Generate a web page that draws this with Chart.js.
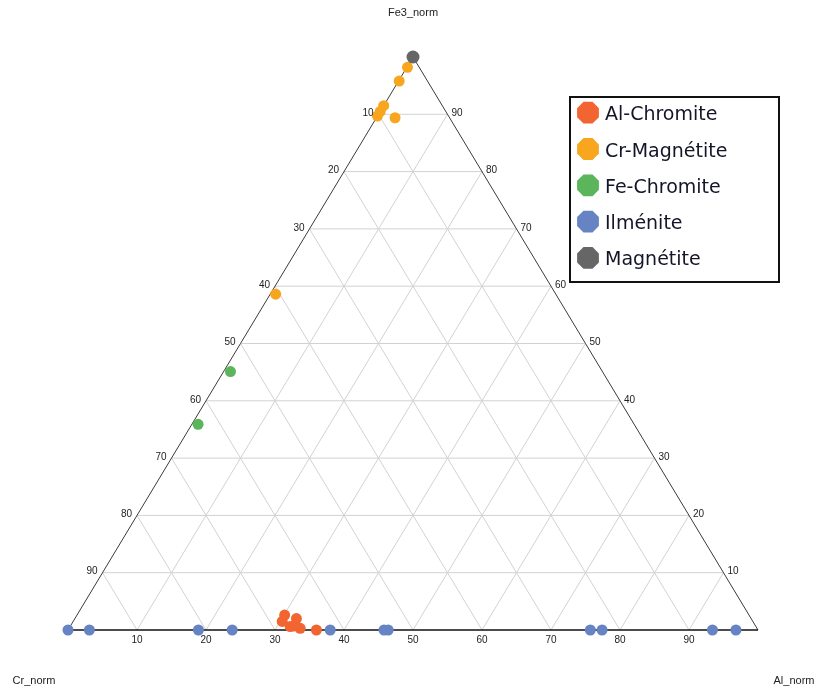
<!DOCTYPE html>
<html lang="fr">
<head>
<meta charset="utf-8">
<title>Diagramme ternaire Cr - Al - Fe3</title>
<script src="https://cdn.jsdelivr.net/npm/chart.js@4/dist/chart.umd.min.js"></script>
<style>
  html, body { margin: 0; padding: 0; background: #fff; }
  #wrap { position: relative; width: 817px; height: 692px; }
</style>
</head>
<body>
<div id="wrap"><canvas id="ternary"></canvas></div>
<script>
/* ── Données (valeurs normalisées, en %) ── */
const seriesNames = ['Al-Chromite', 'Cr-Magnétite', 'Fe-Chromite', 'Ilménite', 'Magnétite'];

const alChrCr = [67.3, 68.2, 65.9, 67.5, 66.2, 64.0, 66.9];
const alChrAl = [30.1, 30.3, 32.1, 31.9, 33.5, 36.0, 32.4];
const alChrFe = [2.6, 1.5, 2.0, 0.6, 0.3, 0.0, 0.7];

const crMagCr = [1.7, 4.1, 8.5, 9.5, 10.3, 7.9, 40.6];
const crMagAl = [0.1, 0.1, 0.0, 0.0, 0.0, 2.7, 0.8];
const crMagFe = [98.2, 95.8, 91.5, 90.5, 89.7, 89.4, 58.6];

const feChrCr = [53.9, 63.2];
const feChrAl = [1.0, 0.9];
const feChrFe = [45.1, 35.9];

const ilmCr = [100.0, 96.9, 81.1, 76.2, 62.0, 54.2, 53.6, 24.3, 22.6, 6.6, 3.2];
const ilmAl = [0.0, 3.1, 18.9, 23.8, 38.0, 45.8, 46.4, 75.7, 77.4, 93.4, 96.8];
const ilmFe = [0, 0, 0, 0, 0, 0, 0, 0, 0, 0, 0];

const magCr = [0.0];
const magAl = [0.0];
const magFe = [100.0];

const tickLabels = [10, 20, 30, 40, 50, 60, 70, 80, 90];
const axisTitles = { top: 'Fe3_norm', left: 'Cr_norm', right: 'Al_norm' };

const COLORS = ['#F26530', '#F9A61F', '#5BB55A', '#6683C4', '#666666'];

/* ── Ternaire -> cartésien (x = Al + Fe3/2, y = Fe3) ── */
function toXY(cr, al, fe) {
  return cr.map((c, i) => {
    const sum = c + al[i] + fe[i];
    const a = al[i] / sum * 100;
    const f = fe[i] / sum * 100;
    return { x: a + f / 2, y: f };
  });
}

const pointSets = [
  toXY(alChrCr, alChrAl, alChrFe),
  toXY(crMagCr, crMagAl, crMagFe),
  toXY(feChrCr, feChrAl, feChrFe),
  toXY(ilmCr, ilmAl, ilmFe),
  toXY(magCr, magAl, magFe),
];

/* ── Grille + triangle (dessinés avec les échelles du graphique) ── */
const ternaryFrame = {
  id: 'ternaryFrame',
  beforeDatasetsDraw(chart) {
    const { ctx, scales } = chart;
    const P = (a, f) => ({ x: scales.x.getPixelForValue(a + f / 2), y: scales.y.getPixelForValue(f) });
    const line = (p, q) => { ctx.beginPath(); ctx.moveTo(p.x, p.y); ctx.lineTo(q.x, q.y); ctx.stroke(); };

    ctx.save();
    ctx.strokeStyle = '#d2d2d2';
    ctx.lineWidth = 1;
    tickLabels.forEach(k => {
      line(P(0, k), P(100 - k, k));       // Fe3 constant
      line(P(k, 0), P(k, 100 - k));       // Al constant
      line(P(100 - k, 0), P(0, 100 - k)); // Cr constant
    });

    ctx.strokeStyle = '#3a3a3a';
    line(P(0, 0), P(0, 100));
    line(P(100, 0), P(0, 100));
    ctx.strokeStyle = '#111';
    ctx.lineWidth = 1.6;
    line(P(0, 0), P(100, 0));
    ctx.restore();
  },
  afterDraw(chart) {
    const { ctx, scales } = chart;
    const P = (a, f) => ({ x: scales.x.getPixelForValue(a + f / 2), y: scales.y.getPixelForValue(f) });

    ctx.save();
    ctx.fillStyle = '#222';
    ctx.font = '10px "Liberation Sans", Arial, sans-serif';
    tickLabels.forEach(k => {
      // axe du bas : Al
      let p = P(k, 0);
      ctx.textAlign = 'center'; ctx.textBaseline = 'middle';
      ctx.fillText(String(k), p.x, p.y + 10);
      // côté gauche : Cr
      p = P(0, 100 - k);
      ctx.textAlign = 'right';
      ctx.fillText(String(k), p.x - 5, p.y - 1);
      // côté droit : Fe3
      p = P(100 - k, k);
      ctx.textAlign = 'left';
      ctx.fillText(String(k), p.x + 4, p.y - 1);
    });

    ctx.font = '11px "Liberation Sans", Arial, sans-serif';
    ctx.textAlign = 'center';
    const top = P(0, 100);
    ctx.fillText(axisTitles.top, top.x, 13);
    ctx.fillText(axisTitles.left, 34, 681);
    ctx.fillText(axisTitles.right, 794, 681);
    ctx.restore();

    /* ── Légende ── */
    ctx.save();
    ctx.fillStyle = '#fff';
    ctx.fillRect(570, 97, 209, 185);
    ctx.strokeStyle = '#111';
    ctx.lineWidth = 2;
    ctx.strokeRect(570, 97, 209, 185);
    chart.data.datasets.forEach((ds, i) => {
      const cy = 112.7 + i * 36.3;
      const cx = 588;
      const R = 11.8;
      ctx.beginPath();
      for (let j = 0; j < 8; j++) {
        const ang = Math.PI / 8 + j * Math.PI / 4;
        const px = cx + R * Math.cos(ang), py = cy + R * Math.sin(ang);
        j === 0 ? ctx.moveTo(px, py) : ctx.lineTo(px, py);
      }
      ctx.closePath();
      ctx.fillStyle = ds.backgroundColor;
      ctx.fill();
      ctx.fillStyle = '#15152a';
      ctx.font = '19px "DejaVu Sans", Verdana, sans-serif';
      ctx.textAlign = 'left';
      ctx.textBaseline = 'alphabetic';
      ctx.fillText(ds.label, 605, cy + 7.5);
    });
    ctx.restore();
  }
};

new Chart(document.getElementById('ternary'), {
  type: 'scatter',
  data: {
    datasets: seriesNames.map((name, i) => ({
      label: name,
      data: pointSets[i],
      backgroundColor: COLORS[i],
      borderColor: COLORS[i],
      borderWidth: 0,
      pointRadius: i === 4 ? 6.5 : 5.5,
      pointHoverRadius: i === 4 ? 6.5 : 5.5,
      order: 5 - i,
      clip: false,
    }))
  },
  options: {
    responsive: true,
    maintainAspectRatio: false,
    animation: false,
    layout: { padding: { left: 68, right: 59, top: 57, bottom: 62 } },
    plugins: { legend: { display: false }, tooltip: { enabled: false } },
    scales: {
      x: { type: 'linear', min: 0, max: 100, display: false },
      y: { type: 'linear', min: 0, max: 100, display: false },
    }
  },
  plugins: [ternaryFrame]
});
</script>
</body>
</html>
